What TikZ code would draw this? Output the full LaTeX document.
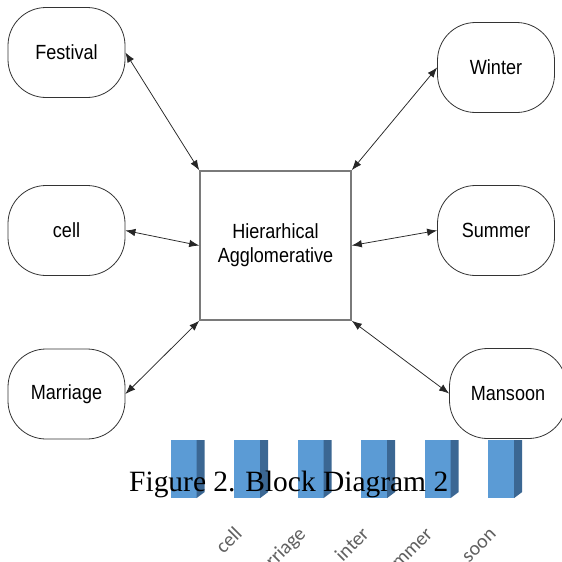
\documentclass[tikz,border=0pt]{standalone}
\usepackage{fontspec}
\setmainfont{Liberation Serif}
\setsansfont{Liberation Sans}
\newfontfamily\calibrifont{Carlito}
\usetikzlibrary{arrows.meta}
\definecolor{barblue}{HTML}{5B9BD5}
\definecolor{barsideblue}{HTML}{3B6793}
\definecolor{labgray}{HTML}{606060}
\definecolor{hubgray}{HTML}{7A7A7A}
\newcommand{\nx}[1]{\scalebox{0.88}[1]{#1}}
\begin{document}
\begin{tikzpicture}[x=1pt,y=-1pt,
  blob/.style={draw=black!80, line width=0.8pt, rounded corners=38pt,
    minimum width=117pt, minimum height=90pt, fill=white, inner sep=0pt,
    font=\sffamily\fontsize{20.5}{24}\selectfont},
  hub/.style={draw=hubgray, line width=1.6pt, minimum width=151pt,
    minimum height=149pt, fill=white, inner sep=0pt, align=center,
    font=\sffamily\fontsize{20.5}{24}\selectfont},
  link/.style={{Latex[length=10pt,width=7.5pt]}-{Latex[length=10pt,width=7.5pt]},
    line width=0.75pt, black!85},
  axlab/.style={font=\calibrifont\fontsize{20}{22}\selectfont, text=labgray,
    rotate=45, anchor=base east, inner sep=0pt}
]
\clip (0,0) rectangle (562,562);
\fill[white] (0,0) rectangle (562,562);

% bars
\foreach \i in {0,...,5} {
  \pgfmathsetmacro\xl{170.7+63.5*\i}
  \fill[barblue] (\xl,440) rectangle (\xl+26,498);
  \fill[barsideblue] (\xl+26,440) -- (\xl+34,440) -- (\xl+34,492) -- (\xl+26,498) -- cycle;
}

% axis labels (only the parts visible above the lower edge)
\node[axlab] (l1) at (243.2,535) {cell};
\node[axlab] (l2) at (306.7,535) {rriage};
\node[axlab] (l3) at (370.2,535) {inter};
\node[axlab] (l4) at (433.7,535) {mmer};
\node[axlab] (l5) at (497.2,535) {soon};

% caption
\node[anchor=base west, inner sep=0pt, font=\rmfamily\fontsize{26}{30}\selectfont]
  (cap) at (129,491) {\resizebox{319pt}{!}{Figure 2. Block Diagram 2}};

% nodes
\node[blob] (fest) at (66.5,52.5) {\nx{Festival}};
\node[blob] (cell) at (66.5,230.5) {\nx{cell}};
\node[blob] (marr) at (66.5,394) {\nx{Marriage}};
\node[blob] (wint) at (496,67.5) {\nx{Winter}};
\node[blob] (summ) at (496,230.5) {\nx{Summer}};
\node[blob] (mans) at (508,393.5) {\nx{Mansoon}};
\node[hub] (hub) at (275.5,245.5) {\nx{Hierarhical}\\\nx{Agglomerative}};

% connectors
\draw[link] (fest.east) -- (hub.north west);
\draw[link] (cell.east) -- (hub.west);
\draw[link] (marr.east) -- (hub.south west);
\draw[link] (wint.west) -- (hub.north east);
\draw[link] (summ.west) -- (hub.east);
\draw[link] (mans.west) -- (hub.south east);
\end{tikzpicture}
\end{document}
